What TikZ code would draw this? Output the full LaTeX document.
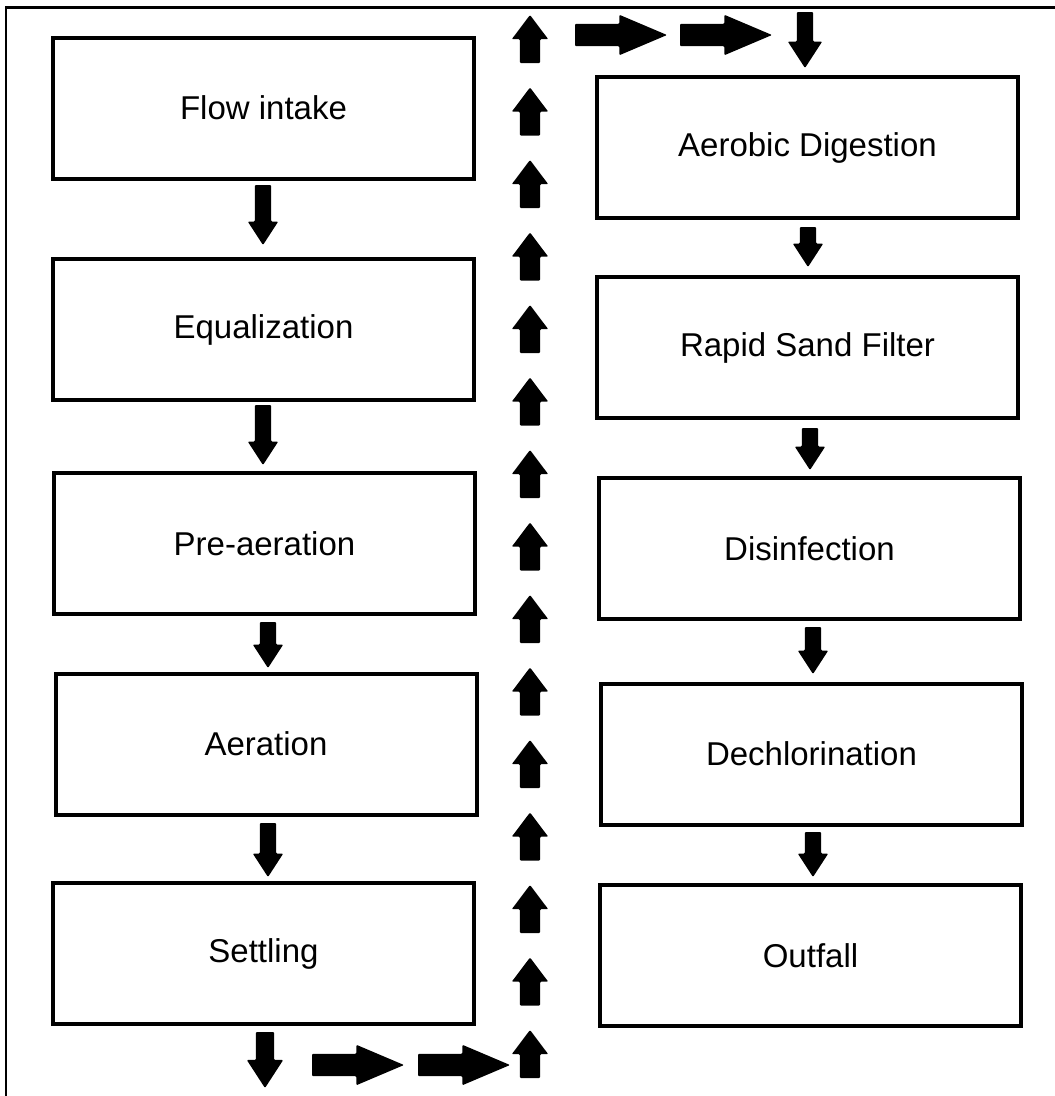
\documentclass[tikz,border=0pt]{standalone}
\usepackage{fontspec}
\setmainfont{Liberation Sans}
\usetikzlibrary{shapes.arrows}

\begin{document}
\begin{tikzpicture}[x=1pt,y=-1pt,font=\fontsize{33}{40}\selectfont]
	\tikzstyle{stage}=[draw=black,line width=4pt,minimum width=421pt,minimum height=141pt,inner sep=0pt]
	\tikzstyle{block}=[single arrow,fill=black,rounded corners=1pt,outer sep=0pt,anchor=tail]
	\tikzstyle{down}=[block,rotate=270,inner sep=8pt,single arrow head extend=7pt,single arrow tip angle=66]
	\tikzstyle{up}=[block,rotate=90,inner sep=10pt,single arrow head extend=8pt,single arrow tip angle=74,minimum height=48pt]
	\tikzstyle{across}=[block,inner sep=11pt,single arrow head extend=9pt,single arrow tip angle=46,minimum height=92pt]

	\useasboundingbox (0,0) rectangle (1055,1096);
	\draw[line width=2.5pt] (6,1096) -- (6,7.5) -- (1055,7.5);

	% left column
	\node[stage]	(F)	at (263.5,108)	{Flow intake};
	\node[stage]	(E)	at (263.5,329.5)	{Equalization};
	\node[stage]	(P)	at (264.5,543.5)	{Pre-aeration};
	\node[stage]	(A)	at (266,744)	{Aeration};
	\node[stage]	(S)	at (263.5,953.5)	{Settling};

	% right column
	\node[stage]	(D)	at (807.5,147.5)	{Aerobic Digestion};
	\node[stage]	(R)	at (807.5,347.5)	{Rapid Sand Filter};
	\node[stage]	(I)	at (809.5,548.5)	{Disinfection};
	\node[stage]	(C)	at (811.5,754)	{Dechlorination};
	\node[stage]	(O)	at (810.5,955.5)	{Outfall};

	% arrows between stages (placed by their tails)
	\node[down,minimum height=60pt]	(FE)	at (263,185)	{};
	\node[down,minimum height=60pt]	(EP)	at (263,405)	{};
	\node[down,minimum height=46pt]	(PA)	at (268,622)	{};
	\node[down,minimum height=54pt]	(AS)	at (268,823)	{};
	\node[down,minimum height=56pt,inner sep=9pt,single arrow head extend=9pt]	(S0)	at (265,1032)	{};
	\node[down,minimum height=40pt]	(DR)	at (808,227)	{};
	\node[down,minimum height=42pt]	(RI)	at (810,428)	{};
	\node[down,minimum height=47pt]	(IC)	at (813,627)	{};
	\node[down,minimum height=45pt]	(CO)	at (813,832)	{};
	\node[down,minimum height=56pt,inner sep=8pt,single arrow head extend=9pt]	(D0)	at (805,12)	{};

	% return line
	\node[across]	(B1)	at (312,1065)	{};
	\node[across]	(B2)	at (418,1065)	{};
	\foreach \k in {0,...,14}
		\node[up]	(U\k)	at (530,{63+72.5*\k})	{};
	\node[across]	(T1)	at (575,35)	{};
	\node[across]	(T2)	at (680,35)	{};
\end{tikzpicture}
\end{document}
